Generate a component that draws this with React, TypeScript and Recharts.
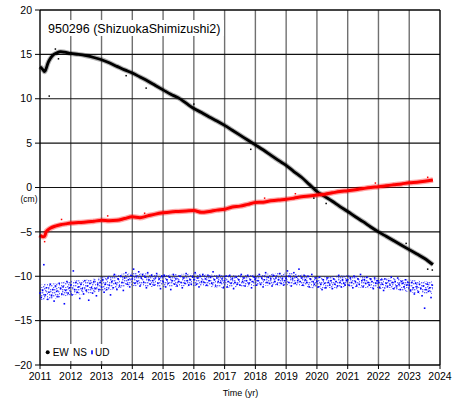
import React from 'react';
import { ComposedChart, Line, Area, XAxis, YAxis, CartesianGrid } from 'recharts';

const years = [2011, 2012, 2013, 2014, 2015, 2016, 2017, 2018, 2019, 2020, 2021, 2022, 2023, 2024];
const cmTicks = [-20, -15, -10, -5, 0, 5, 10, 15, 20];

// EW (black)
const ewYears = [
  2011.0, 2011.05, 2011.1, 2011.15, 2011.2, 2011.25, 2011.33, 2011.42, 2011.54, 2011.67, 2011.8,
  2012.0, 2012.25, 2012.5, 2012.75, 2013.0, 2013.25, 2013.5, 2013.75, 2014.0, 2014.25, 2014.5, 2014.75,
  2015.0, 2015.25, 2015.5, 2015.75, 2016.0, 2016.25, 2016.5, 2016.75, 2017.0, 2017.25, 2017.5, 2017.75,
  2018.0, 2018.25, 2018.5, 2018.75, 2019.0, 2019.25, 2019.5, 2019.75, 2020.0, 2020.25, 2020.5, 2020.75,
  2021.0, 2021.25, 2021.5, 2021.75, 2022.0, 2022.25, 2022.5, 2022.75, 2023.0, 2023.25, 2023.5, 2023.77,
];
const ewValues = [
  13.6, 13.45, 13.25, 13.05, 13.4, 13.95, 14.5, 14.9, 15.15, 15.3, 15.25,
  15.1, 15.0, 14.85, 14.65, 14.4, 14.05, 13.65, 13.25, 12.9, 12.45, 12.0, 11.5,
  11.0, 10.5, 10.1, 9.5, 8.9, 8.45, 7.95, 7.5, 7.0, 6.45, 5.9, 5.35,
  4.8, 4.25, 3.65, 3.05, 2.5, 1.8, 1.15, 0.35, -0.45, -1.0, -1.55, -2.15,
  -2.7, -3.3, -3.85, -4.45, -5.0, -5.5, -6.0, -6.5, -7.0, -7.5, -8.0, -8.7,
];
const ewOutYears = [2011.3, 2011.5, 2011.6, 2013.8, 2014.45, 2016.0, 2017.85, 2019.9, 2020.3, 2022.9, 2023.6, 2023.75];
const ewOutValues = [10.3, 15.6, 14.5, 12.6, 11.2, 9.4, 4.3, -1.2, -1.8, -6.3, -9.2, -9.3];

// NS (red)
const nsYears = [
  2011.0, 2011.05, 2011.1, 2011.15, 2011.2, 2011.25, 2011.33, 2011.5, 2011.67, 2011.83,
  2012.0, 2012.25, 2012.5, 2012.75, 2013.0, 2013.25, 2013.5, 2013.75, 2014.0, 2014.25, 2014.5, 2014.75,
  2015.0, 2015.25, 2015.5, 2015.75, 2016.0, 2016.25, 2016.5, 2016.75, 2017.0, 2017.25, 2017.5, 2017.75,
  2018.0, 2018.25, 2018.5, 2018.75, 2019.0, 2019.25, 2019.5, 2019.75, 2020.0, 2020.25, 2020.5, 2020.75,
  2021.0, 2021.25, 2021.5, 2021.75, 2022.0, 2022.25, 2022.5, 2022.75, 2023.0, 2023.25, 2023.5, 2023.77,
];
const nsValues = [
  -5.35, -5.5, -5.55, -5.5, -5.0, -4.8, -4.6, -4.35, -4.2, -4.1,
  -4.0, -3.95, -3.9, -3.8, -3.7, -3.75, -3.7, -3.5, -3.3, -3.4, -3.2, -3.0,
  -2.85, -2.75, -2.7, -2.65, -2.6, -2.8, -2.7, -2.55, -2.45, -2.2, -2.1, -1.9,
  -1.7, -1.65, -1.5, -1.4, -1.33, -1.2, -1.05, -0.95, -0.85, -0.75, -0.6, -0.45,
  -0.36, -0.25, -0.12, 0.0, 0.09, 0.2, 0.3, 0.4, 0.54, 0.6, 0.7, 0.85,
];
const nsOutYears = [2011.15, 2011.7, 2013.2, 2014.4, 2018.3, 2019.3, 2021.9, 2023.6];
const nsOutValues = [-6.1, -3.6, -3.2, -2.9, -1.2, -0.7, 0.5, 1.15];

// UD (blue), two samples per month from 2011.0
const udPerYear = 24;
const udValues = [
  -11.9, -12.4, -11.6, -8.7, -12.1, -11.3, -12.6, -11.8, -10.9, -12.2, -11.5, -12.8, -11.1, -11.7, -12.3, -10.8, -11.4, -12.0, -11.2, -13.1, -11.6, -10.6, -11.9, -11.3,
  -11.0, -12.1, -9.4, -11.5, -10.7, -11.8, -11.2, -12.5, -10.9, -11.4, -12.0, -10.5, -11.6, -11.1, -12.7, -10.8, -11.3, -11.9, -10.6, -11.4, -12.2, -10.9, -11.5, -10.7,
  -11.2, -10.4, -11.8, -10.9, -11.5, -10.2, -11.0, -12.1, -10.6, -11.3, -9.8, -10.8, -11.5, -10.3, -11.1, -10.0, -10.7, -11.6, -10.2, -9.6, -10.9, -10.4, -11.2, -9.9,
  -10.3, -9.2, -10.8, -10.0, -10.6, -9.5, -11.1, -10.2, -9.8, -10.7, -10.1, -11.3, -9.6, -10.4, -10.9, -9.9, -10.5, -11.0, -10.2, -9.7, -10.8, -10.3, -11.4, -10.0,
  -10.6, -9.9, -11.2, -10.4, -10.8, -10.1, -11.5, -10.5, -9.8, -10.9, -10.3, -11.1, -10.6, -10.0, -10.7, -11.3, -10.2, -10.8, -9.7, -10.5, -11.0, -10.4, -10.9, -10.1,
  -10.4, -9.6, -10.9, -10.2, -11.2, -10.0, -10.6, -9.8, -10.7, -10.3, -11.0, -9.9, -10.5, -10.1, -10.8, -9.5, -10.4, -11.1, -10.2, -10.6, -9.9, -10.7, -10.3, -11.3,
  -10.5, -10.0, -11.2, -10.6, -9.9, -10.8, -10.3, -11.4, -10.7, -10.1, -10.9, -10.4, -11.0, -9.8, -10.6, -10.2, -11.1, -10.5, -9.9, -10.8, -10.4, -11.3, -10.6, -10.1,
  -10.3, -11.0, -10.5, -9.8, -10.9, -10.2, -11.2, -10.4, -9.6, -10.7, -10.1, -10.8, -10.3, -11.1, -9.9, -10.6, -10.2, -10.9, -10.4, -9.7, -10.8, -10.3, -11.0, -10.5,
  -10.2, -9.4, -10.7, -10.0, -11.1, -10.3, -9.6, -10.8, -10.1, -10.5, -9.2, -10.6, -10.2, -11.0, -9.9, -10.4, -10.7, -10.0, -11.2, -10.3, -9.8, -10.6, -10.9, -10.2,
  -10.6, -11.2, -10.1, -10.9, -11.5, -10.4, -10.8, -11.3, -10.2, -10.7, -11.0, -10.5, -11.4, -10.3, -10.9, -10.6, -11.1, -9.9, -10.7, -11.2, -10.4, -10.8, -11.0, -10.5,
  -10.4, -11.0, -10.2, -10.7, -11.3, -10.0, -10.6, -11.1, -10.3, -10.9, -9.8, -10.5, -11.2, -10.4, -10.8, -10.1, -10.7, -11.0, -10.3, -10.6, -11.4, -10.2, -10.8, -10.5,
  -10.7, -11.3, -10.4, -10.9, -11.6, -10.3, -10.8, -11.2, -10.5, -11.0, -10.1, -10.7, -11.4, -10.6, -11.1, -10.2, -10.9, -11.5, -10.6, -10.8, -11.2, -10.4, -11.0, -10.7,
  -11.0, -11.6, -10.7, -11.3, -12.0, -10.8, -11.2, -11.8, -10.9, -11.4, -12.2, -11.1, -13.6, -11.5, -10.9, -11.7, -11.3, -12.4, -11.0,
];
// dense core of the UD cloud
const udBandYears = [2011, 2011.5, 2012, 2012.5, 2013, 2013.5, 2014, 2014.5, 2015, 2016, 2017, 2018, 2019, 2019.5, 2020, 2020.5, 2021, 2022, 2022.5, 2023, 2023.77];
const udLow = [-12.7, -12.5, -12.1, -12.0, -11.7, -11.4, -11.1, -11.2, -11.2, -11.1, -11.3, -11.1, -11.0, -11.1, -11.4, -11.4, -11.2, -11.4, -11.5, -11.8, -12.0];
const udHigh = [-10.9, -10.8, -10.5, -10.4, -10.1, -9.8, -9.6, -9.7, -9.8, -9.7, -9.9, -9.8, -9.6, -9.8, -10.1, -10.0, -9.9, -10.2, -10.2, -10.4, -10.6];

const font = '"Liberation Sans", Arial, Helvetica, sans-serif';

const toPts = (ts: number[], vs: number[]) => ts.map((t, i) => ({ t, v: vs[i] }));
const ewData = toPts(ewYears, ewValues);
const ewOut = toPts(ewOutYears, ewOutValues);
const nsData = toPts(nsYears, nsValues);
const nsOut = toPts(nsOutYears, nsOutValues);
const udData = udValues.map((v, i) => ({ t: 2011 + i / udPerYear, v }));
const bandData = udBandYears.map((t, i) => ({ t, band: [udLow[i], udHigh[i]] }));

const dotShape = (color: string, size: number) => (props: any) => {
  const { cx, cy, index } = props;
  if (cx == null || cy == null) return <g key={index} />;
  return <rect key={index} x={cx - size / 2} y={cy - size / 2} width={size} height={size} fill={color} />;
};

const minus = (v: number) => String(v).replace('-', '\u2212');

// speckle texture used for the dense part of the UD cloud
const speckles = [
  [0, 0], [4, 1], [8, 0], [10, 3], [2, 3], [6, 4], [1, 6], [5, 7], [9, 6], [11, 8], [3, 9], [7, 10],
  [0, 11], [10, 11], [6, 1], [3, 6], [8, 8], [11, 5], [1, 9], [5, 11], [9, 2], [4, 4], [7, 6], [2, 1],
];

export default function App() {
  return (
    <div style={{ position: 'absolute', left: 0, top: 0, width: 467, height: 401, background: '#fff', fontFamily: font }}>
      <ComposedChart width={467} height={401} margin={{ top: 0, right: 0, bottom: 16, left: 8 }}>
        <CartesianGrid horizontal={false} stroke="#707070" strokeWidth={1.4} />
        <CartesianGrid vertical={false} stroke="#111" strokeWidth={1.1} />
        <XAxis
          dataKey="t"
          type="number"
          domain={[2011, 2024]}
          ticks={years}
          interval={0}
          height={20}
          tickSize={4}
          tickMargin={4}
          stroke="#000"
          tick={{ fontSize: 10.5, fill: '#000', fontFamily: font }}
        />
        <XAxis
          xAxisId="top"
          orientation="top"
          dataKey="t"
          type="number"
          domain={[2011, 2024]}
          ticks={years}
          interval={0}
          height={10}
          tickSize={10}
          tick={false}
          stroke="#000"
        />
        <YAxis
          type="number"
          domain={[-20, 20]}
          ticks={cmTicks}
          interval={0}
          width={32}
          tickSize={5}
          tickMargin={3}
          stroke="#000"
          tickFormatter={minus}
          tick={{ fontSize: 10.5, fill: '#000', fontFamily: font }}
        />
        <YAxis
          yAxisId="right"
          orientation="right"
          type="number"
          domain={[-20, 20]}
          ticks={cmTicks}
          interval={0}
          width={27}
          tickSize={3}
          tick={false}
          stroke="#000"
        />
        <Area data={bandData} dataKey="band" type="monotone" stroke="none" fill="url(#udSpeckle)" isAnimationActive={false} />
        <Line data={udData} dataKey="v" stroke="none" dot={dotShape('#0000ff', 1.6)} isAnimationActive={false} />
        <Line data={ewData} dataKey="v" type="monotone" stroke="#000" strokeOpacity={0.3} strokeWidth={5} dot={false} isAnimationActive={false} />
        <Line data={ewData} dataKey="v" type="monotone" stroke="#000" strokeWidth={2.8} dot={false} isAnimationActive={false} />
        <Line data={ewOut} dataKey="v" stroke="none" dot={dotShape('#000', 1.5)} isAnimationActive={false} />
        <Line data={nsData} dataKey="v" type="monotone" stroke="#ff0000" strokeOpacity={0.35} strokeWidth={5.5} dot={false} isAnimationActive={false} />
        <Line data={nsData} dataKey="v" type="monotone" stroke="#ff0000" strokeWidth={3} dot={false} isAnimationActive={false} />
        <Line data={nsOut} dataKey="v" stroke="none" dot={dotShape('#ff0000', 1.5)} isAnimationActive={false} />
      </ComposedChart>
      <svg width={467} height={401} style={{ position: 'absolute', left: 0, top: 0, pointerEvents: 'none' }}>
        <defs>
          <pattern id="udSpeckle" width={12} height={12} patternUnits="userSpaceOnUse">
            {speckles.map(([x, y], i) => (
              <rect key={i} x={x} y={y} width={1.4} height={1.4} fill="#0000ff" />
            ))}
          </pattern>
        </defs>
        <rect x={44} y={20} width={180} height={16} fill="#fff" />
        <text x={48} y={33} fontSize={12.5} fontFamily={font} fill="#000">950296 (ShizuokaShimizushi2)</text>
        <rect x={43} y={344} width={72} height={17} fill="#fff" />
        <circle cx={47.7} cy={352.3} r={2} fill="#000" />
        <text x={52.7} y={355.7} fontSize={10} fontFamily={font} fill="#000">EW</text>
        <text x={73} y={355.7} fontSize={10} fontFamily={font} fill="#000">NS</text>
        <rect x={91.2} y={350.3} width={1.6} height={4} fill="#0000ff" />
        <text x={95} y={355.7} fontSize={10} fontFamily={font} fill="#000">UD</text>
        <text x={29} y={202} fontSize={8.5} fontFamily={font} fill="#000" textAnchor="middle">(cm)</text>
        <text x={240.5} y={396} fontSize={9} fontFamily={font} fill="#000" textAnchor="middle">Time (yr)</text>
      </svg>
    </div>
  );
}
